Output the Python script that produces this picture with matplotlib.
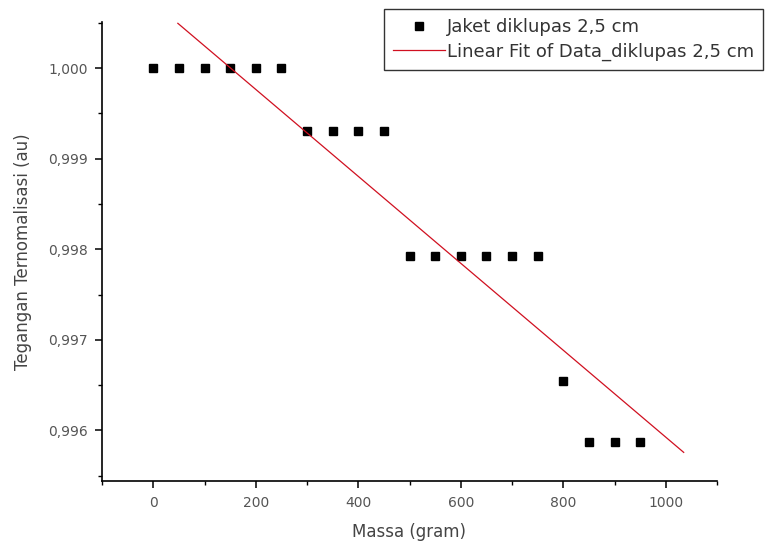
import numpy as np
import matplotlib.pyplot as plt
from matplotlib.ticker import FuncFormatter, MultipleLocator

plt.rcParams['font.family'] = ['DejaVu Sans']

# Massa beban (gram) dan tegangan ternormalisasi
massa = [0, 50, 100, 150, 200, 250, 300, 350, 400, 450,
         500, 550, 600, 650, 700, 750, 800, 850, 900, 950]
tegangan = [1.0, 1.0, 1.0, 1.0, 1.0, 1.0,
            0.999304, 0.999304, 0.999304, 0.999304,
            0.997923, 0.997923, 0.997923, 0.997923, 0.997923, 0.997923,
            0.996547, 0.995867, 0.995867, 0.995867]

# Rentang garis fit
fit_range = [48, 1035]

slope, intercept = np.polyfit(massa, tegangan, 1)
xf = np.array(fit_range)
yf = slope * xf + intercept

fig = plt.figure(figsize=(7.79, 5.47), dpi=100)
ax = fig.add_axes([102 / 779, 66 / 547, 615 / 779, 459 / 547])

ax.plot(massa, tegangan, 's', color='black', markersize=5.8,
        label='Jaket diklupas 2,5 cm')
ax.plot(xf, yf, '-', color='#d01020', linewidth=0.9,
        label='Linear Fit of Data_diklupas 2,5 cm')

ax.set_xlim(-100, 1100)
ax.set_ylim(0.99544, 1.00051)

ax.xaxis.set_major_locator(MultipleLocator(200))
ax.xaxis.set_minor_locator(MultipleLocator(100))
ax.yaxis.set_major_locator(MultipleLocator(0.001))
ax.yaxis.set_minor_locator(MultipleLocator(0.0005))
ax.yaxis.set_major_formatter(FuncFormatter(lambda v, p: f'{v:.3f}'.replace('.', ',')))

for side in ['top', 'right']:
    ax.spines[side].set_visible(False)
for side in ['left', 'bottom']:
    ax.spines[side].set_linewidth(1.2)

ax.tick_params(which='major', direction='out', length=5, width=1.1,
               labelsize=10, labelcolor='#555555')
ax.tick_params(axis='x', which='major', pad=6)
ax.tick_params(axis='y', which='major', pad=5)
ax.tick_params(which='minor', direction='out', length=3, width=1.0)

ax.set_xlabel('Massa (gram)', fontsize=12, color='#444444', labelpad=9)
ax.set_ylabel('Tegangan Ternomalisasi (au)', fontsize=12, color='#444444', labelpad=12)

leg = fig.legend(loc='upper left', bbox_to_anchor=(384 / 779, 1 - 9 / 547),
                 fontsize=13, frameon=True, fancybox=False, handlelength=2.9,
                 handletextpad=0.1, borderpad=0.5, labelspacing=0.35,
                 borderaxespad=0, markerscale=0.9)
leg.get_frame().set_edgecolor('black')
leg.get_frame().set_linewidth(1.0)
for t in leg.get_texts():
    t.set_color('#333333')

fig.savefig('out.png', dpi=100)
